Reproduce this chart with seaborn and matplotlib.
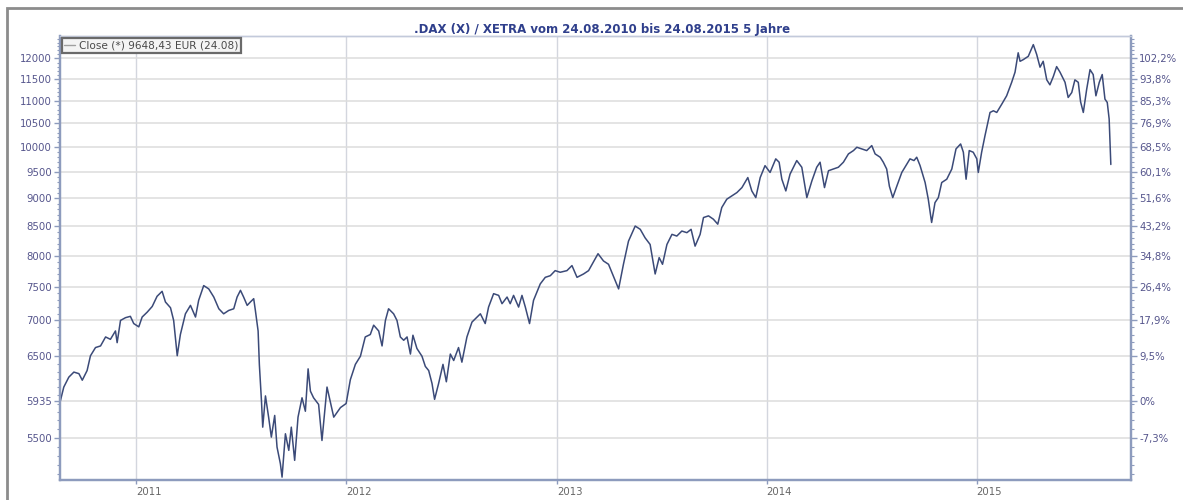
"""
DAX (XETRA) closing prices 24.08.2010 - 24.08.2015, log price axis with a
second axis showing the change against the first close (5935).
"""
import numpy as np, pandas as pd
import matplotlib; matplotlib.use("Agg")
import matplotlib.pyplot as plt
from matplotlib.ticker import FixedLocator, NullFormatter
from matplotlib.lines import Line2D
from matplotlib.patches import Rectangle
import seaborn as sns

# points: decimal year and close (EUR)
t_year = [
    2010.638, 2010.654, 2010.678, 2010.702, 2010.726, 2010.742, 2010.765, 2010.781, 2010.805, 2010.829,
    2010.853, 2010.876, 2010.900, 2010.908, 2010.924, 2010.948, 2010.971, 2010.987, 2011.011, 2011.027,
    2011.051, 2011.075, 2011.098, 2011.122, 2011.138, 2011.162, 2011.177, 2011.194, 2011.209, 2011.233,
    2011.257, 2011.281, 2011.296, 2011.320, 2011.344, 2011.368, 2011.392, 2011.415, 2011.439, 2011.463,
    2011.479, 2011.495, 2011.510, 2011.527, 2011.542, 2011.558, 2011.566, 2011.579, 2011.585, 2011.595,
    2011.601, 2011.614, 2011.629, 2011.642, 2011.658, 2011.669, 2011.685, 2011.693, 2011.709, 2011.725,
    2011.737, 2011.753, 2011.769, 2011.788, 2011.804, 2011.817, 2011.828, 2011.843, 2011.867, 2011.883,
    2011.907, 2011.939, 2011.971, 2011.998, 2012.018, 2012.042, 2012.066, 2012.089, 2012.113, 2012.129,
    2012.153, 2012.169, 2012.185, 2012.200, 2012.224, 2012.240, 2012.256, 2012.272, 2012.288, 2012.304,
    2012.316, 2012.335, 2012.359, 2012.375, 2012.391, 2012.407, 2012.419, 2012.438, 2012.459, 2012.475,
    2012.494, 2012.510, 2012.533, 2012.549, 2012.573, 2012.597, 2012.621, 2012.637, 2012.660, 2012.676,
    2012.700, 2012.724, 2012.740, 2012.764, 2012.779, 2012.795, 2012.819, 2012.835, 2012.851, 2012.871,
    2012.890, 2012.922, 2012.946, 2012.970, 2012.993, 2013.017, 2013.049, 2013.073, 2013.097, 2013.128,
    2013.152, 2013.197, 2013.223, 2013.247, 2013.266, 2013.295, 2013.318, 2013.342, 2013.374, 2013.398,
    2013.421, 2013.445, 2013.469, 2013.488, 2013.504, 2013.525, 2013.549, 2013.572, 2013.596, 2013.620,
    2013.640, 2013.659, 2013.683, 2013.699, 2013.723, 2013.746, 2013.767, 2013.786, 2013.810, 2013.834,
    2013.858, 2013.882, 2013.910, 2013.929, 2013.948, 2013.969, 2013.992, 2014.016, 2014.043, 2014.059,
    2014.072, 2014.091, 2014.111, 2014.143, 2014.167, 2014.191, 2014.215, 2014.238, 2014.254, 2014.275,
    2014.294, 2014.317, 2014.341, 2014.365, 2014.389, 2014.413, 2014.429, 2014.452, 2014.476, 2014.500,
    2014.516, 2014.540, 2014.555, 2014.571, 2014.584, 2014.600, 2014.619, 2014.643, 2014.658, 2014.682,
    2014.701, 2014.714, 2014.730, 2014.754, 2014.769, 2014.785, 2014.801, 2014.817, 2014.833, 2014.857,
    2014.881, 2014.901, 2014.923, 2014.936, 2014.949, 2014.964, 2014.983, 2015.000, 2015.007, 2015.023,
    2015.039, 2015.063, 2015.079, 2015.095, 2015.119, 2015.142, 2015.166, 2015.182, 2015.197, 2015.206,
    2015.221, 2015.245, 2015.269, 2015.285, 2015.301, 2015.316, 2015.333, 2015.348, 2015.364, 2015.380,
    2015.396, 2015.420, 2015.435, 2015.452, 2015.467, 2015.483, 2015.494, 2015.507, 2015.523, 2015.539,
    2015.554, 2015.567, 2015.583, 2015.597, 2015.610, 2015.621, 2015.630, 2015.638,
]
close = [
    5935, 6103, 6229, 6294, 6274, 6190, 6314, 6509, 6620, 6642,
    6766, 6733, 6850, 6687, 7000, 7040, 7059, 6955, 6908, 7049,
    7120, 7204, 7356, 7432, 7270, 7185, 7000, 6510, 6800, 7096,
    7220, 7049, 7295, 7520, 7469, 7345, 7170, 7096, 7145, 7170,
    7345, 7447, 7345, 7220, 7270, 7320, 7145, 6850, 6390, 5931,
    5620, 5993, 5737, 5506, 5757, 5395, 5213, 5071, 5544, 5358,
    5620, 5249, 5737, 5970, 5807, 6336, 6052, 5970, 5889, 5468,
    6103, 5737, 5851, 5900, 6196, 6395, 6503, 6766, 6800, 6932,
    6850, 6642, 7000, 7170, 7096, 7000, 6766, 6720, 6766, 6532,
    6790, 6607, 6503, 6368, 6314, 6146, 5951, 6146, 6395, 6170,
    6532, 6446, 6620, 6424, 6766, 6976, 7049, 7096, 6955, 7195,
    7396, 7370, 7245, 7345, 7245, 7370, 7195, 7370, 7195, 6955,
    7295, 7546, 7649, 7675, 7755, 7729, 7755, 7836, 7649, 7702,
    7755, 8030, 7911, 7857, 7702, 7469, 7857, 8240, 8500, 8443,
    8297, 8184, 7702, 7966, 7857, 8184, 8356, 8327, 8413, 8385,
    8443, 8156, 8356, 8650, 8680, 8621, 8533, 8830, 8983, 9045,
    9106, 9200, 9392, 9137, 9013, 9392, 9625, 9491, 9760, 9693,
    9360, 9137, 9458, 9726, 9593, 9013, 9328, 9593, 9693, 9200,
    9525, 9558, 9593, 9693, 9860, 9928, 9996, 9962, 9928, 10030,
    9860, 9793, 9693, 9558, 9224, 9013, 9224, 9491, 9593, 9760,
    9726, 9793, 9625, 9296, 8983, 8563, 8920, 9013, 9296, 9360,
    9558, 9962, 10064, 9894, 9360, 9928, 9894, 9760, 9491, 9894,
    10237, 10738, 10775, 10738, 10924, 11112, 11425, 11666, 12140, 11930,
    11970, 12052, 12346, 12100, 11786, 11930, 11483, 11366, 11559, 11800,
    11666, 11425, 11074, 11187, 11483, 11425, 10976, 10738, 11261, 11727,
    11609, 11112, 11425, 11609, 11037, 10961, 10595, 9648,
]

y_ticks = [5500, 5935, 6500, 7000, 7500, 8000, 8500, 9000, 9500, 10000, 10500, 11000, 11500, 12000]
y_labels_left = [str(v) for v in y_ticks]
y_labels_right = ["-7,3%", "0%", "9,5%", "17,9%", "26,4%", "34,8%", "43,2%", "51,6%",
                  "60,1%", "68,5%", "76,9%", "85,3%", "93,8%", "102,2%"]
years = [2011, 2012, 2013, 2014, 2015]
title = ".DAX (X) / XETRA vom 24.08.2010 bis 24.08.2015 5 Jahre"
legend_label = "Close (*) 9648,43 EUR (24.08)"

LINE = "#3b4a78"
SPINE = "#8d9bbd"
GRID = "#dcdcdc"
TICKLAB = "#55558c"


def to_date(t):
    return pd.Timestamp("2010-01-01") + pd.to_timedelta((np.asarray(t) - 2010) * 365.25, unit="D")


df = pd.DataFrame({"date": to_date(t_year), "close": close})

sns.set_style("white")
fig = plt.figure(figsize=(11.83, 5.0), dpi=100)
ax = fig.add_axes([60 / 1183, 1 - 480 / 500, (1131 - 60) / 1183, (480 - 36) / 500])

sns.lineplot(data=df, x="date", y="close", ax=ax, color=LINE, lw=1.1, zorder=3)
ax.set_yscale("log")
ax.set_ylim(5041, 12567)
ax.set_xlim(to_date(2010.636), to_date(2015.734))
ax.set_xlabel(""); ax.set_ylabel("")

minor = np.arange(5100, 12600, 100)
ax.yaxis.set_major_locator(FixedLocator(y_ticks))
ax.yaxis.set_minor_locator(FixedLocator(minor))
ax.yaxis.set_minor_formatter(NullFormatter())
ax.set_yticklabels(y_labels_left)
ax.set_xticks([pd.Timestamp(f"{y}-01-01") for y in years])
ax.set_xticklabels([str(y) for y in years], ha="left")

ax.grid(True, axis="y", which="major", color=GRID, lw=1.1)
ax.grid(True, axis="x", which="major", color="#d3d6de", lw=1.0)
ax.set_axisbelow(True)
ax.tick_params(axis="y", which="major", length=4, width=1, color=SPINE, labelsize=7.3,
               labelcolor=TICKLAB, pad=2, left=True)
ax.tick_params(axis="y", which="minor", length=2.5, width=0.8, color=SPINE, left=True)
ax.tick_params(axis="x", which="major", length=3, width=1, color=SPINE, labelsize=7.3,
               labelcolor="#666666", pad=2, bottom=True)

ax2 = ax.twinx()
ax2.set_yscale("log")
ax2.set_ylim(ax.get_ylim())
ax2.yaxis.set_major_locator(FixedLocator(y_ticks))
ax2.yaxis.set_minor_locator(FixedLocator(minor))
ax2.yaxis.set_minor_formatter(NullFormatter())
ax2.set_yticklabels(y_labels_right)
ax2.tick_params(axis="y", which="major", length=4, width=1, color=SPINE, labelsize=7.3,
                labelcolor=TICKLAB, pad=2, right=True)
ax2.tick_params(axis="y", which="minor", length=2.5, width=0.8, color=SPINE, right=True)
ax2.grid(False)

for a in (ax, ax2):
    for side in ("left", "right", "bottom"):
        a.spines[side].set_color(SPINE); a.spines[side].set_linewidth(1.6)
    a.spines["top"].set_color("#c3cadb"); a.spines["top"].set_linewidth(1.0)

leg = ax2.legend(handles=[Line2D([], [], color="#a0a0a0", lw=1)], labels=[legend_label],
                 loc="upper left", bbox_to_anchor=(0, 1), borderaxespad=0.15, fontsize=7.6,
                 handlelength=1.0, handletextpad=0.4, borderpad=0.25, fancybox=False,
                 framealpha=1, labelcolor="#4a4a4a")
leg.get_frame().set_edgecolor("#6a6a6a"); leg.get_frame().set_linewidth(1.6)
leg.get_frame().set_facecolor("#f4f4f4")

fig.text(0.509, 0.942, title, ha="center", va="center", fontsize=8.5, fontweight="bold",
         color="#2f3f8c")
fig.patches.append(Rectangle((7 / 1183, -0.1), 1.2, 1 - 8 / 500 + 0.1, transform=fig.transFigure,
                             fill=False, edgecolor="#8c8c8c", lw=2, zorder=0))

fig.savefig("out.png", dpi=100)
